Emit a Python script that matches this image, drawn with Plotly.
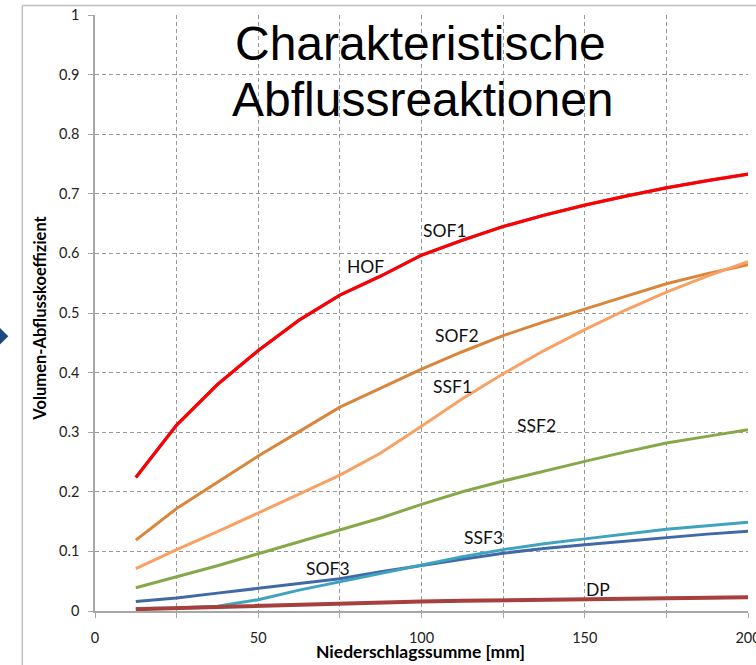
import plotly.graph_objects as go

# Niederschlagssumme [mm]
niederschlag = [12.5, 25, 37.5, 50, 62.5, 75, 87.5, 100, 112.5, 125, 137.5, 150, 162.5, 175, 187.5, 200]

# Volumen-Abflusskoeffizient je Abflussreaktion
hof = [0.224, 0.312, 0.380, 0.437, 0.488, 0.530, 0.562, 0.597, 0.622, 0.645, 0.664, 0.681, 0.696, 0.710, 0.722, 0.733]
sof1 = [0.224, 0.312, 0.380, 0.437, 0.488, 0.530, 0.562, 0.597, 0.622, 0.645, 0.664, 0.681, 0.696, 0.710, 0.722, 0.733]
sof2 = [0.119, 0.172, 0.216, 0.260, 0.301, 0.342, 0.374, 0.406, 0.435, 0.462, 0.485, 0.507, 0.528, 0.549, 0.566, 0.581]
ssf1 = [0.071, 0.103, 0.133, 0.164, 0.196, 0.228, 0.265, 0.310, 0.356, 0.398, 0.437, 0.472, 0.505, 0.535, 0.562, 0.586]
ssf2 = [0.039, 0.057, 0.076, 0.096, 0.116, 0.136, 0.156, 0.179, 0.200, 0.218, 0.235, 0.251, 0.267, 0.282, 0.293, 0.304]
sof3 = [0.016, 0.022, 0.030, 0.038, 0.046, 0.054, 0.066, 0.077, 0.087, 0.097, 0.105, 0.111, 0.117, 0.124, 0.129, 0.134]
ssf3 = [0.004, 0.005, 0.008, 0.019, 0.035, 0.049, 0.063, 0.077, 0.091, 0.103, 0.113, 0.121, 0.129, 0.137, 0.143, 0.149]
dp = [0.003, 0.005, 0.007, 0.009, 0.011, 0.012, 0.014, 0.016, 0.017, 0.018, 0.019, 0.020, 0.021, 0.021, 0.022, 0.023]

# Beschriftungen an den Kurven
labels = ['HOF', 'SOF1', 'SOF2', 'SSF1', 'SSF2', 'SSF3', 'SOF3', 'DP']
label_x = [82.7, 107.1, 110.9, 109.6, 135.3, 119.0, 71.5, 154.1]
label_y = [0.578, 0.638, 0.462, 0.376, 0.3115, 0.123, 0.071, 0.0367]

series = [
    ('HOF', hof, '#4F81BD', 3),
    ('SOF2', sof2, '#D9853B', 3),
    ('SSF1', ssf1, '#F9A064', 3),
    ('SSF2', ssf2, '#86A84A', 3),
    ('SOF3', sof3, '#4169A8', 3),
    ('SSF3', ssf3, '#3FA3BE', 3),
    ('DP', dp, '#A5403D', 4),
    ('SOF1', sof1, '#FF0000', 3.2),
]

font_main = 'Lato, "Open Sans", sans-serif'
grid_col = '#9a9a9a'
axis_col = '#a6a6a6'

fig = go.Figure()
for name, vals, col, w in series:
    fig.add_trace(go.Scatter(
        x=niederschlag, y=vals, name=name, mode='lines',
        line=dict(color=col, width=w),
        showlegend=False,
    ))

for txt, lx, ly in zip(labels, label_x, label_y):
    fig.add_annotation(x=lx, y=ly, text=txt, showarrow=False,
                       xanchor='center', yanchor='middle',
                       font=dict(family=font_main, size=17.5, color='#111111'))

# Titel
title_font = dict(family='"Liberation Sans", Arial, sans-serif', size=48, color='black')
fig.add_annotation(x=0.498, y=(610.7 - 43) / 596, xref='paper', yref='paper',
                   text='Charakteristische', showarrow=False,
                   xanchor='center', yanchor='middle', font=title_font)
fig.add_annotation(x=0.502, y=(610.7 - 99) / 596, xref='paper', yref='paper',
                   text='Abflussreaktionen', showarrow=False,
                   xanchor='center', yanchor='middle', font=title_font)

# Achsentitel
fig.add_annotation(x=(40 - 94.7) / 653, y=0.491, xref='paper', yref='paper',
                   text='<b>Volumen-Abflusskoeffizient</b>', textangle=-90, showarrow=False,
                   xanchor='center', yanchor='middle',
                   font=dict(family=font_main, size=16.5, color='black'))
fig.add_annotation(x=0.498, y=(610.7 - 651) / 596, xref='paper', yref='paper',
                   text='<b>Niederschlagssumme [mm]</b>', showarrow=False,
                   xanchor='center', yanchor='middle',
                   font=dict(family=font_main, size=17.5, color='black'))

# Rahmen und Pfeil links
fig.add_shape(type='line', xref='paper', yref='paper',
              x0=(22 - 94.7) / 653, x1=(22 - 94.7) / 653, y0=1.016, y1=-0.12,
              line=dict(color='#bfbfbf', width=1.5))
fig.add_shape(type='line', xref='paper', yref='paper',
              x0=(22 - 94.7) / 653, x1=1.05, y0=1.016, y1=1.016,
              line=dict(color='#bfbfbf', width=1.5))
px0, px1 = (-3 - 94.7) / 653, (8 - 94.7) / 653
py_top, py_mid, py_bot = (610.7 - 325) / 596, (610.7 - 336) / 596, (610.7 - 347) / 596
fig.add_shape(type='path', xref='paper', yref='paper',
              path=f'M {px0} {py_top} L {px1} {py_mid} L {px0} {py_bot} Z',
              fillcolor='#1F497D', line=dict(width=0))

fig.update_xaxes(
    range=[0, 200], dtick=50, tick0=0, automargin=False,
    ticks='outside', ticklen=5, tickcolor=axis_col,
    showgrid=True, gridcolor=grid_col, griddash='4px,3px', gridwidth=1,
    minor=dict(dtick=25, ticks='outside', ticklen=5, tickcolor=axis_col,
               showgrid=True, gridcolor=grid_col, griddash='4px,3px', gridwidth=1),
    showline=True, linecolor=axis_col, linewidth=1.5,
    zeroline=False, ticklabelstandoff=8, ticklabeloverflow='allow',
    tickfont=dict(family=font_main, size=14.5, color='#222222'),
)
fig.update_yaxes(
    range=[0, 1], dtick=0.1, tick0=0, automargin=False,
    ticks='outside', ticklen=5, tickcolor=axis_col,
    showgrid=True, gridcolor=grid_col, griddash='4px,3px', gridwidth=1,
    showline=True, linecolor=axis_col, linewidth=1.5,
    zeroline=False, ticklabelstandoff=6, ticklabeloverflow='allow',
    tickfont=dict(family=font_main, size=14.5, color='#222222'),
)

fig.update_layout(
    width=756, height=665,
    margin=dict(l=95, r=8, t=15, b=54),
    plot_bgcolor='white', paper_bgcolor='white',
)

# Seitenrand entfernen, damit die Figur bei 0,0 beginnt
fig.write_html("out.html", config={'displayModeBar': False},
               post_script="document.body.style.margin = '0';")
